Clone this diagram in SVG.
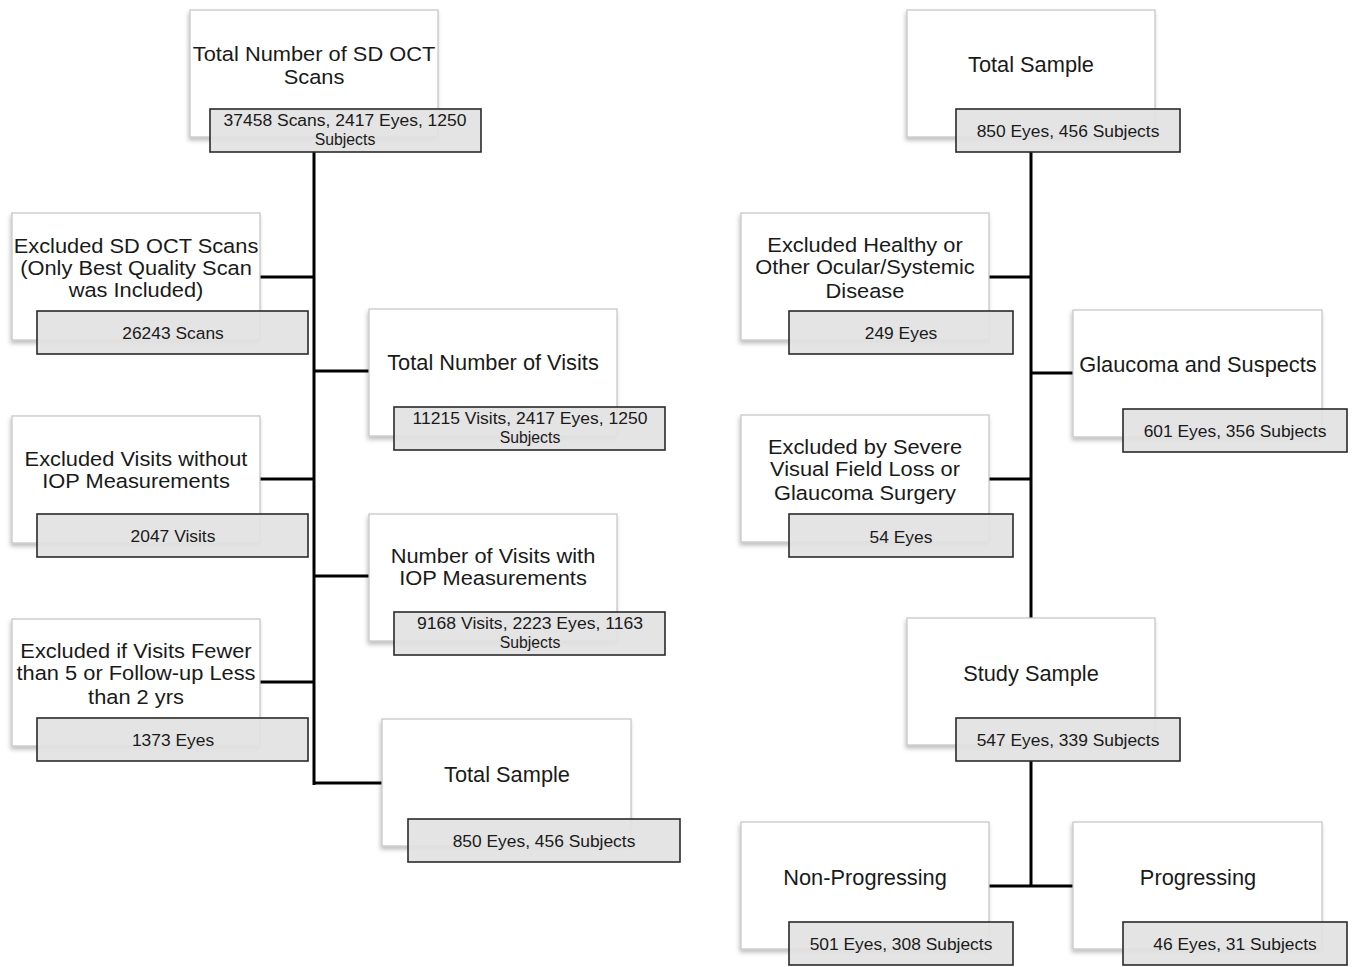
<svg xmlns="http://www.w3.org/2000/svg" width="1355" height="967" viewBox="0 0 1355 967">
<defs>
<filter id="sh" x="-10%" y="-10%" width="120%" height="125%">
<feDropShadow dx="-1" dy="3" stdDeviation="2" flood-color="#000" flood-opacity="0.25"/>
</filter>
</defs>
<style>
.wb{fill:#fff;stroke:#c4c4c4;stroke-width:1.2;filter:url(#sh)}
.gb{fill:#e2e2e2;fill-opacity:0.92;stroke:#2a2a2a;stroke-width:1.6}
.t{font-family:"Liberation Sans",Arial,sans-serif;font-size:21.8px;fill:#1a1a1a;text-anchor:middle}
.m{font-family:"Liberation Sans",Arial,sans-serif;font-size:19.5px;fill:#1a1a1a;text-anchor:middle}
.s{font-family:"Liberation Sans",Arial,sans-serif;font-size:17.4px;fill:#1a1a1a;text-anchor:middle}
.s2{font-family:"Liberation Sans",Arial,sans-serif;font-size:15.8px;fill:#1a1a1a;text-anchor:middle}
.c{stroke:#000;stroke-width:3;fill:none}
</style>
<rect width="1355" height="967" fill="#fff"/>
<g id="connectors">
<path class="c" d="M314 152V785M260 277H314M314 371H369M260 479H314M314 576H369M260 682H314M314 783H382"/>
<path class="c" d="M1031 152V618M989 277H1031M1031 373H1073M989 479H1031M1031 761V886M989 886H1073"/>
</g>
<g id="n1"><rect class="wb" x="190" y="10" width="248" height="127"/><g transform="translate(314 0) scale(1.12 1)"><text class="m" x="0" y="61">Total Number of SD OCT</text><text class="m" x="0" y="84">Scans</text></g><rect class="gb" x="210" y="109" width="271" height="43"/><text class="s2" x="345" y="126" textLength="243" lengthAdjust="spacingAndGlyphs">37458 Scans, 2417 Eyes, 1250</text><text class="s2" x="345" y="145">Subjects</text></g>
<g id="n2"><rect class="wb" x="12" y="213" width="248" height="127"/><g transform="translate(136 0) scale(1.12 1)"><text class="m" x="0" y="253">Excluded SD OCT Scans</text><text class="m" x="0" y="275">(Only Best Quality Scan</text><text class="m" x="0" y="297">was Included)</text></g><rect class="gb" x="37" y="311" width="271" height="43"/><text class="s" x="173" y="339">26243 Scans</text></g>
<g id="n3"><rect class="wb" x="369" y="309" width="248" height="127"/><text class="t" x="493" y="370">Total Number of Visits</text><rect class="gb" x="394" y="407" width="271" height="43"/><text class="s2" x="530" y="424" textLength="235" lengthAdjust="spacingAndGlyphs">11215 Visits, 2417 Eyes, 1250</text><text class="s2" x="530" y="443">Subjects</text></g>
<g id="n4"><rect class="wb" x="12" y="416" width="248" height="127"/><g transform="translate(136 0) scale(1.12 1)"><text class="m" x="0" y="466">Excluded Visits without</text><text class="m" x="0" y="488">IOP Measurements</text></g><rect class="gb" x="37" y="514" width="271" height="43"/><text class="s" x="173" y="542">2047 Visits</text></g>
<g id="n5"><rect class="wb" x="369" y="514" width="248" height="127"/><g transform="translate(493 0) scale(1.12 1)"><text class="m" x="0" y="563">Number of Visits with</text><text class="m" x="0" y="585">IOP Measurements</text></g><rect class="gb" x="394" y="612" width="271" height="43"/><text class="s2" x="530" y="629" textLength="226" lengthAdjust="spacingAndGlyphs">9168 Visits, 2223 Eyes, 1163</text><text class="s2" x="530" y="648">Subjects</text></g>
<g id="n6"><rect class="wb" x="12" y="619" width="248" height="127"/><g transform="translate(136 0) scale(1.12 1)"><text class="m" x="0" y="658">Excluded if Visits Fewer</text><text class="m" x="0" y="680">than 5 or Follow-up Less</text><text class="m" x="0" y="704">than 2 yrs</text></g><rect class="gb" x="37" y="718" width="271" height="43"/><text class="s" x="173" y="746">1373 Eyes</text></g>
<g id="n7"><rect class="wb" x="382" y="719" width="249" height="127"/><text class="t" x="507" y="782">Total Sample</text><rect class="gb" x="408" y="819" width="272" height="43"/><text class="s" x="544" y="847">850 Eyes, 456 Subjects</text></g>
<g id="n8"><rect class="wb" x="907" y="10" width="248" height="127"/><text class="t" x="1031" y="72">Total Sample</text><rect class="gb" x="956" y="109" width="224" height="43"/><text class="s" x="1068" y="137">850 Eyes, 456 Subjects</text></g>
<g id="n9"><rect class="wb" x="741" y="213" width="248" height="127"/><g transform="translate(865 0) scale(1.12 1)"><text class="m" x="0" y="252">Excluded Healthy or</text><text class="m" x="0" y="274">Other Ocular/Systemic</text><text class="m" x="0" y="298">Disease</text></g><rect class="gb" x="789" y="311" width="224" height="43"/><text class="s" x="901" y="339">249 Eyes</text></g>
<g id="n10"><rect class="wb" x="1073" y="310" width="249" height="127"/><text class="t" x="1198" y="372">Glaucoma and Suspects</text><rect class="gb" x="1123" y="409" width="224" height="43"/><text class="s" x="1235" y="437">601 Eyes, 356 Subjects</text></g>
<g id="n11"><rect class="wb" x="741" y="415" width="248" height="127"/><g transform="translate(865 0) scale(1.12 1)"><text class="m" x="0" y="454">Excluded by Severe</text><text class="m" x="0" y="476">Visual Field Loss or</text><text class="m" x="0" y="500">Glaucoma Surgery</text></g><rect class="gb" x="789" y="514" width="224" height="43"/><text class="s" x="901" y="543">54 Eyes</text></g>
<g id="n12"><rect class="wb" x="907" y="618" width="248" height="127"/><text class="t" x="1031" y="681">Study Sample</text><rect class="gb" x="956" y="718" width="224" height="43"/><text class="s" x="1068" y="746">547 Eyes, 339 Subjects</text></g>
<g id="n13"><rect class="wb" x="741" y="822" width="248" height="127"/><text class="t" x="865" y="885">Non-Progressing</text><rect class="gb" x="789" y="922" width="224" height="43"/><text class="s" x="901" y="950">501 Eyes, 308 Subjects</text></g>
<g id="n14"><rect class="wb" x="1073" y="822" width="249" height="127"/><text class="t" x="1198" y="885">Progressing</text><rect class="gb" x="1123" y="922" width="224" height="43"/><text class="s" x="1235" y="950">46 Eyes, 31 Subjects</text></g>
</svg>
